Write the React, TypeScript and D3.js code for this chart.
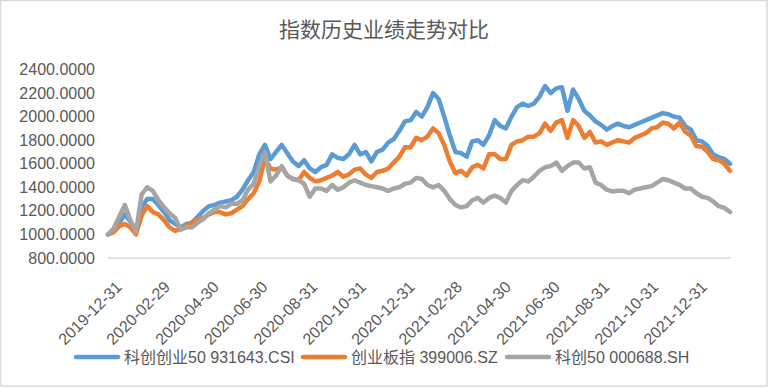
import React from "react";
import * as d3 from "d3";

const dates = [
  "2019-12-31","2020-01-07","2020-01-14","2020-01-21","2020-01-28","2020-02-04","2020-02-11","2020-02-18","2020-02-25","2020-03-03",
  "2020-03-10","2020-03-17","2020-03-24","2020-03-31","2020-04-07","2020-04-14","2020-04-21","2020-04-28","2020-05-05","2020-05-12",
  "2020-05-19","2020-05-26","2020-06-02","2020-06-09","2020-06-16","2020-06-23","2020-06-30","2020-07-07","2020-07-14","2020-07-21",
  "2020-07-28","2020-08-04","2020-08-11","2020-08-18","2020-08-25","2020-09-01","2020-09-08","2020-09-15","2020-09-22","2020-09-29",
  "2020-10-06","2020-10-13","2020-10-20","2020-10-27","2020-11-03","2020-11-10","2020-11-17","2020-11-24","2020-12-01","2020-12-08",
  "2020-12-15","2020-12-22","2020-12-29","2021-01-05","2021-01-12","2021-01-19","2021-01-26","2021-02-02","2021-02-09","2021-02-16",
  "2021-02-23","2021-03-02","2021-03-09","2021-03-16","2021-03-23","2021-03-30","2021-04-06","2021-04-13","2021-04-20","2021-04-27",
  "2021-05-04","2021-05-11","2021-05-18","2021-05-25","2021-06-01","2021-06-08","2021-06-15","2021-06-22","2021-06-29","2021-07-06",
  "2021-07-13","2021-07-20","2021-07-27","2021-08-03","2021-08-10","2021-08-17","2021-08-24","2021-08-31","2021-09-07","2021-09-14",
  "2021-09-21","2021-09-28","2021-10-05","2021-10-12","2021-10-19","2021-10-26","2021-11-02","2021-11-09","2021-11-16","2021-11-23",
  "2021-11-30","2021-12-07","2021-12-14","2021-12-21","2021-12-28","2022-01-04","2022-01-11","2022-01-18","2022-01-25","2022-02-01",
  "2022-02-08","2022-02-15"
];

const kcCyb50 = [
  1000,1040,1100,1170,1110,1010,1230,1300,1300,1250,
  1190,1120,1090,1060,1090,1100,1150,1200,1240,1250,
  1270,1280,1290,1320,1380,1460,1530,1680,1760,1640,
  1700,1760,1690,1620,1580,1630,1560,1530,1570,1590,
  1680,1650,1640,1680,1760,1680,1700,1620,1700,1720,
  1780,1810,1880,1960,1970,2040,2000,2080,2200,2150,
  2000,1840,1700,1690,1660,1790,1800,1760,1840,1970,
  1920,1900,2000,2080,2110,2090,2110,2170,2260,2200,
  2240,2250,2050,2230,2150,2050,2010,1960,1930,1890,
  1920,1940,1920,1910,1930,1950,1970,1990,2010,2030,
  2020,2000,1990,1920,1890,1800,1790,1750,1680,1655,
  1640,1600
];

const cybz = [
  1000,1020,1070,1090,1060,1000,1160,1240,1190,1170,
  1120,1060,1030,1050,1070,1100,1130,1140,1170,1190,
  1190,1170,1180,1210,1240,1300,1350,1450,1650,1560,
  1550,1570,1500,1470,1460,1530,1480,1450,1460,1480,
  1500,1530,1490,1510,1550,1560,1510,1480,1530,1540,
  1560,1610,1660,1740,1740,1820,1800,1830,1900,1860,
  1760,1620,1520,1540,1500,1570,1590,1560,1680,1680,
  1640,1640,1760,1790,1800,1830,1830,1860,1940,1880,
  1950,1970,1820,1970,1920,1820,1870,1780,1790,1760,
  1780,1800,1790,1780,1820,1840,1860,1900,1910,1950,
  1940,1900,1950,1870,1840,1750,1745,1700,1640,1630,
  1600,1540
];

const kc50 = [
  1000,1050,1150,1250,1120,1020,1340,1400,1370,1290,
  1230,1180,1140,1040,1060,1060,1100,1130,1180,1210,
  1240,1230,1260,1260,1290,1380,1430,1580,1700,1450,
  1500,1580,1500,1470,1460,1430,1320,1390,1390,1370,
  1420,1380,1400,1440,1460,1440,1420,1410,1400,1390,
  1370,1390,1400,1430,1440,1480,1470,1420,1400,1420,
  1370,1300,1250,1230,1240,1290,1310,1270,1310,1330,
  1310,1270,1370,1420,1460,1450,1490,1540,1570,1580,
  1610,1540,1580,1610,1610,1560,1570,1440,1420,1380,
  1365,1370,1370,1350,1380,1390,1400,1410,1440,1470,
  1460,1440,1420,1390,1390,1350,1320,1310,1280,1240,
  1225,1190
];

const seriesNames = ["科创创业50 931643.CSI", "创业板指 399006.SZ", "科创50 000688.SH"];
const seriesColors = ["#5B9BD5", "#ED7D31", "#A5A5A5"];
const seriesValues = [kcCyb50, cybz, kc50];

const xTickLabels = [
  "2019-12-31","2020-02-29","2020-04-30","2020-06-30","2020-08-31","2020-10-31",
  "2020-12-31","2021-02-28","2021-04-30","2021-06-30","2021-08-31","2021-10-31","2021-12-31"
];
const yTicks = [800, 1000, 1200, 1400, 1600, 1800, 2000, 2200, 2400];

const W = 769;
const H = 388;
const parse = d3.timeParse("%Y-%m-%d");

export default function App() {
  const x = d3
    .scaleTime()
    .domain([parse(dates[0]) as Date, parse(dates[dates.length - 1]) as Date])
    .range([108, 730]);
  const y = d3.scaleLinear().domain([800, 2400]).range([258, 69.5]);
  const fmt = d3.format(".4f");
  const parsedDates = dates.map((d) => parse(d) as Date);

  const line = d3
    .line<number>()
    .x((_, i) => x(parsedDates[i]))
    .y((v) => y(v));

  const font = "'Liberation Sans', 'Noto Sans CJK SC', sans-serif";
  const legendX = [76, 303, 507];

  return (
    <div style={{ position: "fixed", left: 0, top: 0 }}>
      <svg width={W} height={H} style={{ display: "block", background: "#fff" }}>
        <rect x={0.5} y={0.5} width={766.5} height={385.5} fill="#fff" stroke="#d9d9d9" strokeWidth={1.5} />
        <text
          x={384}
          y={28}
          textAnchor="middle"
          dominantBaseline="central"
          fontFamily="'Noto Sans CJK SC', sans-serif"
          fontSize={21}
          fill="#595959"
        >
          指数历史业绩走势对比
        </text>
        {yTicks.map((t) => (
          <text
            key={t}
            x={95}
            y={y(t)}
            textAnchor="end"
            dominantBaseline="central"
            fontFamily={font}
            fontSize={16}
            fill="#595959"
          >
            {fmt(t)}
          </text>
        ))}
        <line x1={108} x2={731} y1={y(800)} y2={y(800)} stroke="#d9d9d9" strokeWidth={1.5} />
        {xTickLabels.map((l) => {
          const px = x(parse(l) as Date);
          return (
            <text
              key={l}
              transform={`translate(${px + 11},${284}) rotate(-45)`}
              textAnchor="end"
              dominantBaseline="central"
              fontFamily={font}
              fontSize={16}
              fill="#595959"
            >
              {l}
            </text>
          );
        })}
        {seriesValues.map((vals, i) => (
          <path
            key={i}
            d={line(vals) || ""}
            fill="none"
            stroke={seriesColors[i]}
            strokeWidth={4.5}
            strokeLinejoin="round"
            strokeLinecap="round"
          />
        ))}
        {seriesNames.map((n, i) => (
          <g key={n} transform={`translate(${legendX[i]},357)`}>
            <line x1={0} x2={42} y1={0} y2={0} stroke={seriesColors[i]} strokeWidth={4.5} strokeLinecap="round" />
            <text x={48} y={0} dominantBaseline="central" fontFamily={font} fontSize={16} fill="#595959">
              {n}
            </text>
          </g>
        ))}
      </svg>
    </div>
  );
}
